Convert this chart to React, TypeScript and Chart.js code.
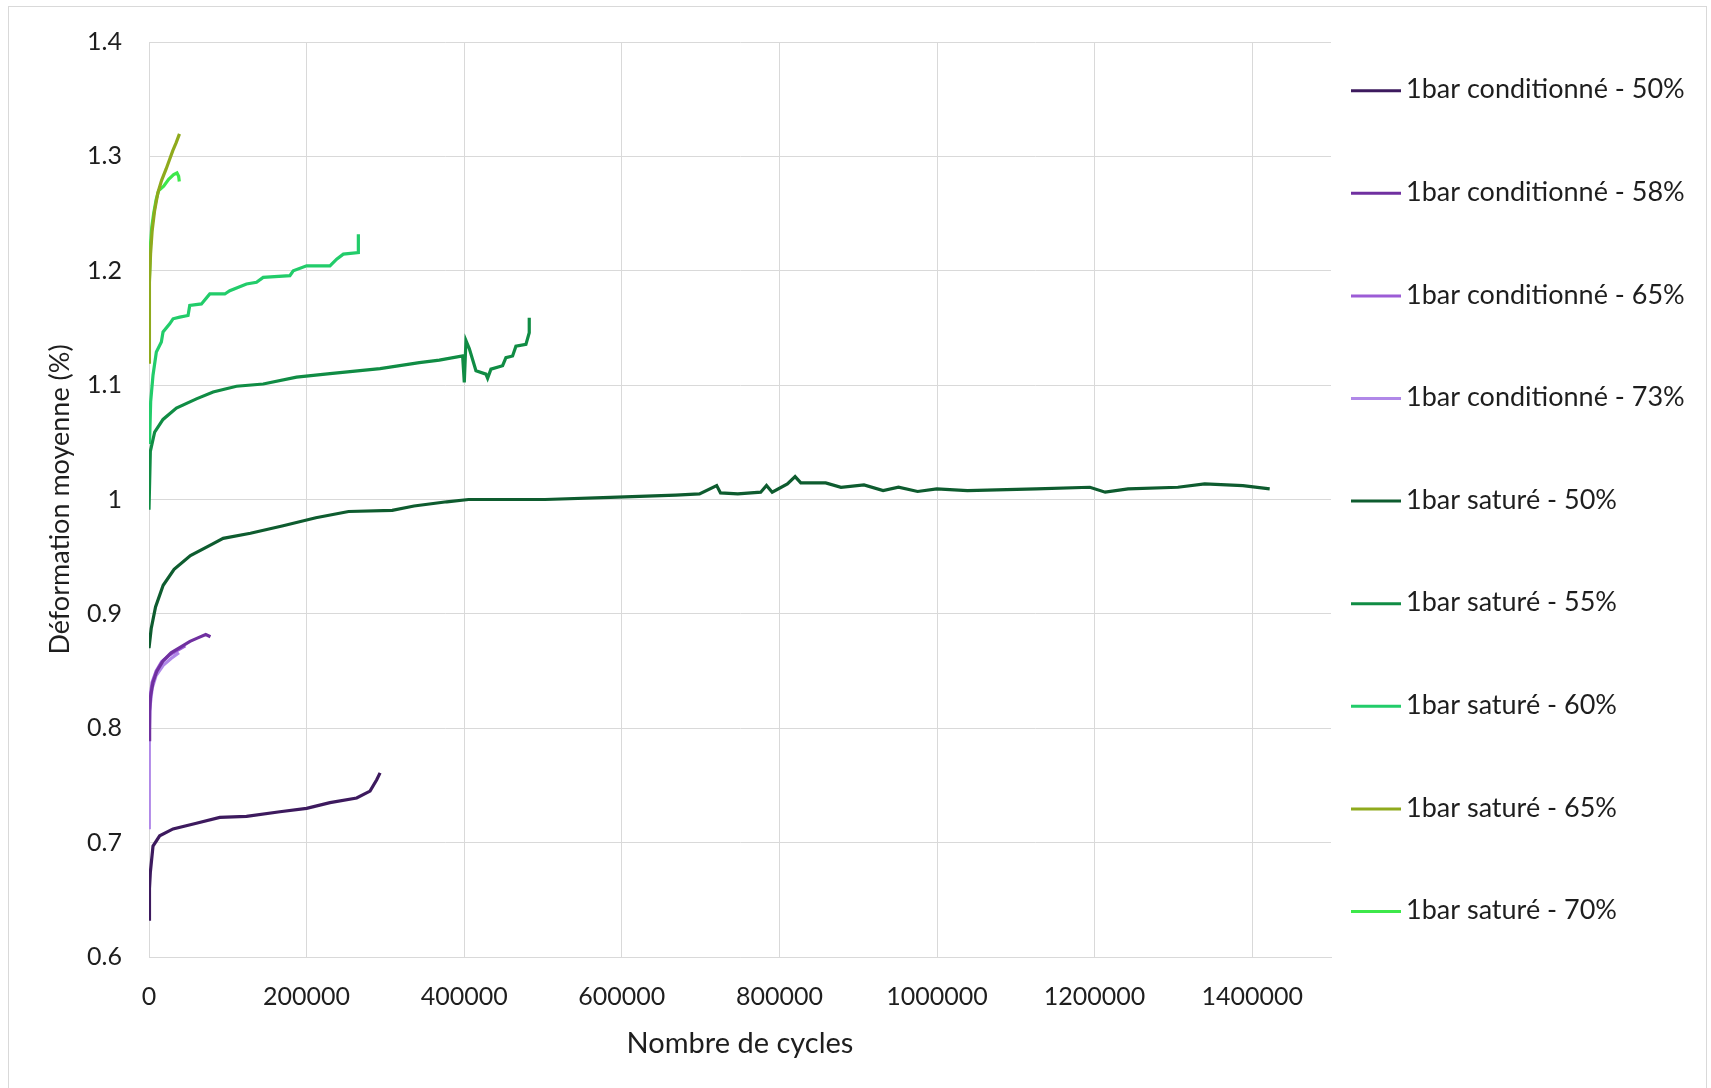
import React, { useEffect, useRef } from "react";
import { Chart, registerables } from "chart.js";

Chart.register(...registerables);

const FONT = "Lato";

const seriesLabels = [
  "1bar conditionné - 50%",
  "1bar conditionné - 58%",
  "1bar conditionné - 65%",
  "1bar conditionné - 73%",
  "1bar saturé - 50%",
  "1bar saturé - 55%",
  "1bar saturé - 60%",
  "1bar saturé - 65%",
  "1bar saturé - 70%",
];
const seriesColors = [
  "#3D1A5E",
  "#7030A0",
  "#9C5CD6",
  "#B088E8",
  "#0E5C2F",
  "#108C44",
  "#22CC6A",
  "#8FAA1D",
  "#3DE84A",
];

const xTickValues = [0, 200000, 400000, 600000, 800000, 1000000, 1200000, 1400000];
const yTickValues = [0.6, 0.7, 0.8, 0.9, 1, 1.1, 1.2, 1.3, 1.4];

const cond50X = [0, 600, 1695, 5085, 13559, 30508, 60169, 89830, 123729, 166102, 200000, 229661, 263559, 280508, 288983, 293220];
const cond50Y = [0.633, 0.66, 0.674, 0.697, 0.706, 0.712, 0.717, 0.722, 0.723, 0.727, 0.73, 0.735, 0.739, 0.745, 0.755, 0.761];

const cond58X = [0, 800, 2000, 5000, 10000, 18000, 28000, 40000, 52000, 62000, 72000, 78000];
const cond58Y = [0.79, 0.815, 0.828, 0.84, 0.85, 0.859, 0.866, 0.871, 0.876, 0.879, 0.882, 0.88];

const cond65X = [0, 500, 1500, 4000, 9000, 16000, 26000, 36000, 46000];
const cond65Y = [0.8, 0.815, 0.828, 0.84, 0.85, 0.858, 0.864, 0.868, 0.872];

const cond73X = [0, 200, 600, 1500, 4000, 9000, 18000, 28000, 38000];
const cond73Y = [0.713, 0.76, 0.795, 0.82, 0.835, 0.846, 0.855, 0.861, 0.866];

const sat50X = [0, 2768, 8304, 17993, 31834, 52595, 80277, 94118, 128720, 170242, 211765, 253287, 308651, 336332, 377855, 405536, 502422, 585467, 668512, 698604, 720431, 725254, 747208, 776269, 783629, 790863, 810152, 819924, 827157, 858756, 878173, 907360, 931599, 951142, 975381, 999746, 1038579, 1126015, 1194036, 1213452, 1242513, 1305711, 1339721, 1388198, 1422208];
const sat50Y = [0.87, 0.887, 0.906, 0.925, 0.939, 0.951, 0.961, 0.966, 0.9705, 0.977, 0.984, 0.9895, 0.9905, 0.9943, 0.998, 1.0, 1.0, 1.0019, 1.0038, 1.0049, 1.0122, 1.0058, 1.0049, 1.0064, 1.0122, 1.0064, 1.0136, 1.02, 1.0145, 1.0145, 1.0107, 1.0128, 1.0078, 1.0107, 1.007, 1.0093, 1.0078, 1.0093, 1.0107, 1.0064, 1.0093, 1.0107, 1.0136, 1.0122, 1.0093];

const sat55X = [0, 1695, 7203, 17797, 34746, 60169, 81356, 111017, 144915, 187288, 229661, 293220, 343056, 368418, 398007, 400120, 402234, 406461, 414915, 427596, 429710, 433937, 448732, 452959, 461413, 465640, 478321, 482548, 482548];
const sat55Y = [0.991, 1.042, 1.059, 1.07, 1.08, 1.088, 1.094, 1.099, 1.101, 1.107, 1.11, 1.1145, 1.1197, 1.1218, 1.1255, 1.1023, 1.139, 1.132, 1.1125, 1.1096, 1.106, 1.114, 1.117, 1.124, 1.1255, 1.134, 1.1356, 1.1458, 1.159];

const sat60X = [0, 847, 2119, 5085, 9322, 15678, 17797, 26271, 30508, 38983, 49576, 51695, 66525, 77119, 96186, 102542, 123728, 136439, 144915, 178814, 183051, 200000, 229661, 238135, 246610, 265678, 265678];
const sat60Y = [1.05, 1.0536, 1.0855, 1.1087, 1.129, 1.1377, 1.1464, 1.1536, 1.158, 1.1594, 1.1609, 1.1696, 1.171, 1.1797, 1.1797, 1.1826, 1.1884, 1.1899, 1.1942, 1.1957, 1.2, 1.2043, 1.2043, 1.2101, 1.2145, 1.2159, 1.2319];

const sat65X = [0, 300, 800, 2000, 4000, 7000, 11200, 16000, 21750, 26000, 30200, 34500, 38660];
const sat65Y = [1.12, 1.16, 1.19, 1.215, 1.235, 1.252, 1.268, 1.279, 1.289, 1.297, 1.305, 1.312, 1.3197];

const sat70X = [0, 400, 1690, 3500, 5917, 9000, 12260, 18600, 24940, 31280, 35500, 37610, 38460];
const sat70Y = [1.155, 1.19, 1.221, 1.238, 1.25, 1.262, 1.27, 1.274, 1.28, 1.284, 1.2855, 1.2826, 1.278];

const seriesX = [cond50X, cond58X, cond65X, cond73X, sat50X, sat55X, sat60X, sat65X, sat70X];
const seriesY = [cond50Y, cond58Y, cond65Y, cond73Y, sat50Y, sat55Y, sat60Y, sat65Y, sat70Y];

const xTitle = "Nombre de cycles";
const yTitle = "Déformation moyenne (%)";

const W = 1711;
const H = 1088;

const legendPlugin = {
  id: "sideLegend",
  afterDraw(chart: any) {
    const ctx = chart.ctx;
    ctx.save();
    chart.data.datasets.forEach((ds: any, i: number) => {
      const y = 90.7 + i * 102.6;
      ctx.strokeStyle = ds.borderColor;
      ctx.lineWidth = 3;
      ctx.beginPath();
      ctx.moveTo(1351, y);
      ctx.lineTo(1401, y);
      ctx.stroke();
      ctx.fillStyle = "#1e1e1e";
      ctx.font = `27px ${FONT}`;
      ctx.textBaseline = "middle";
      ctx.textAlign = "left";
      ctx.fillText(ds.label, 1406, y - 1);
    });
    ctx.restore();
  },
};

export default function App() {
  const ref = useRef<HTMLCanvasElement | null>(null);

  useEffect(() => {
    document.body.style.margin = "0";
    document.body.style.overflow = "hidden";
    const canvas = ref.current;
    if (!canvas) return;
    const datasets = seriesLabels.map((label, i) => ({
      label,
      data: seriesX[i].map((x, j) => ({ x, y: seriesY[i][j] })),
      borderColor: seriesColors[i],
      backgroundColor: seriesColors[i],
      borderWidth: 3.2,
      pointRadius: 0,
      tension: 0,
      fill: false,
    }));
    const chart = new Chart(canvas, {
      type: "line",
      data: { datasets },
      options: {
        animation: false,
        responsive: false,
        devicePixelRatio: 1,
        layout: { padding: { top: 38, right: 380, bottom: 0, left: 0 } },
        plugins: { legend: { display: false }, tooltip: { enabled: false } },
        scales: {
          x: {
            type: "linear",
            min: 0,
            max: 1500000,
            afterFit: (s: any) => {
              s.height = H - 957;
            },
            afterBuildTicks: (s: any) => {
              s.ticks = xTickValues.map((v) => ({ value: v }));
            },
            ticks: {
              autoSkip: false,
              padding: 25,
              color: "#1e1e1e",
              font: { family: FONT, size: 25 },
              maxRotation: 0,
              callback: (v: any) => String(v),
            },
            grid: { color: "#d9d9d9", lineWidth: 1, drawTicks: false },
            border: { color: "#d9d9d9" },
            title: {
              display: true,
              text: xTitle,
              color: "#1e1e1e",
              font: { family: FONT, size: 29 },
              padding: { top: 0, bottom: 27 },
            },
          },
          y: {
            type: "linear",
            min: 0.6,
            max: 1.4,
            afterFit: (s: any) => {
              s.width = 149;
            },
            afterBuildTicks: (s: any) => {
              s.ticks = yTickValues.map((v) => ({ value: v }));
            },
            ticks: {
              autoSkip: false,
              padding: 27,
              color: "#1e1e1e",
              font: { family: FONT, size: 25 },
              callback: (v: any) => String(Math.round(Number(v) * 10) / 10),
            },
            grid: { color: "#d9d9d9", lineWidth: 1, drawTicks: false },
            border: { color: "#d9d9d9" },
            title: {
              display: true,
              text: yTitle,
              color: "#1e1e1e",
              font: { family: FONT, size: 27 },
              padding: { top: 44, bottom: 0 },
            },
          },
        },
      },
      plugins: [legendPlugin],
    });
    return () => chart.destroy();
  }, []);

  return (
    <div style={{ position: "relative", width: W, height: H, overflow: "hidden" }}>
      <div
        style={{
          position: "absolute",
          left: 8,
          top: 6,
          width: 1699,
          height: 1090,
          border: "1px solid #d9d9d9",
          boxSizing: "border-box",
        }}
      />
      <canvas
        ref={ref}
        width={W}
        height={H}
        style={{ position: "absolute", left: 0, top: 0, width: W, height: H }}
      />
    </div>
  );
}
